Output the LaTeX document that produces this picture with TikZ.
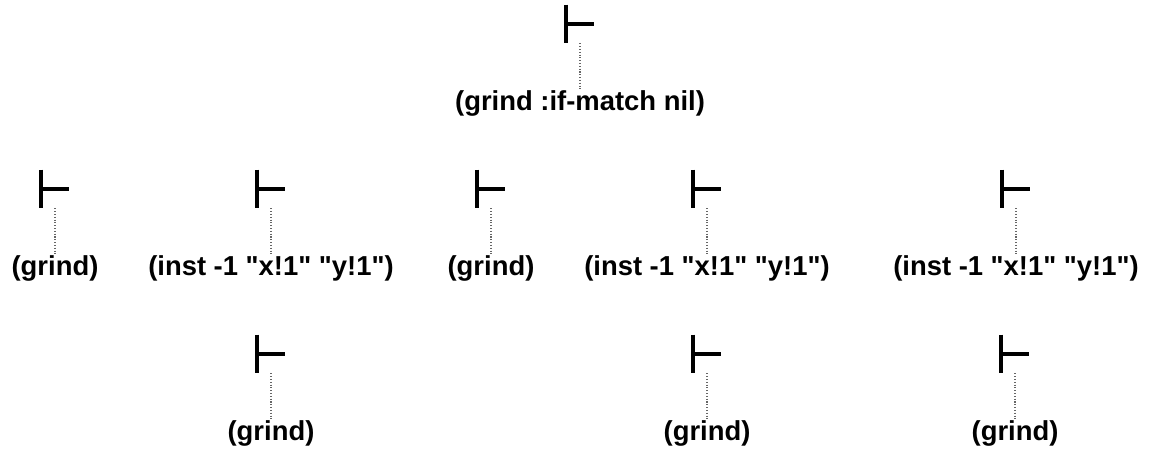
\documentclass[tikz,border=0pt]{standalone}
\usepackage{fontspec}
\setmainfont{Liberation Sans}[Ligatures=TeXOff]
\usepackage{tikz}
\usetikzlibrary{positioning}

\tikzset{
	turnstile/.style={minimum width=0.54cm, minimum height=0.76cm, inner sep=0pt},
	tbar/.style={line width=0.08cm, line cap=butt},
	goal/.style={inner sep=0pt, font=\fontsize{15.6}{18}\selectfont\bfseries},
	link/.style={densely dotted, gray!80!black, line width=0.6pt}
}

\begin{document}
\begin{tikzpicture}
		\useasboundingbox (0,0) rectangle (23.04,-9.02);

		% top
		\node[turnstile] (t0) at (11.6,-0.48) {};
		\node[goal, below=0.94cm of t0] (g0) {(grind :if-match nil)};

		% second row
		\node[turnstile] (t1) at (1.1,-3.78) {};
		\node[turnstile] (t2) at (5.42,-3.78) {};
		\node[turnstile] (t3) at (9.82,-3.78) {};
		\node[turnstile] (t4) at (14.14,-3.78) {};
		\node[turnstile] (t5) at (20.32,-3.78) {};
		\node[goal, below=0.94cm of t1] (g1) {(grind)};
		\node[goal, below=0.94cm of t2] (g2) {(inst -1 "x!1" "y!1")};
		\node[goal, below=0.94cm of t3] (g3) {(grind)};
		\node[goal, below=0.94cm of t4] (g4) {(inst -1 "x!1" "y!1")};
		\node[goal, below=0.94cm of t5] (g5) {(inst -1 "x!1" "y!1")};

		% third row
		\node[turnstile] (t6) at (5.42,-7.08) {};
		\node[turnstile] (t7) at (14.14,-7.08) {};
		\node[turnstile] (t8) at (20.3,-7.08) {};
		\node[goal, below=0.94cm of t6] (g6) {(grind)};
		\node[goal, below=0.94cm of t7] (g7) {(grind)};
		\node[goal, below=0.94cm of t8] (g8) {(grind)};

		\foreach \i in {0,...,8} {
			\draw[tbar] (t\i.north west) -- (t\i.south west);
			\draw[tbar] (t\i.west) -- (t\i.east);
			\draw[link] (t\i.south) -- (g\i.north);
		}
	\end{tikzpicture}
\end{document}
